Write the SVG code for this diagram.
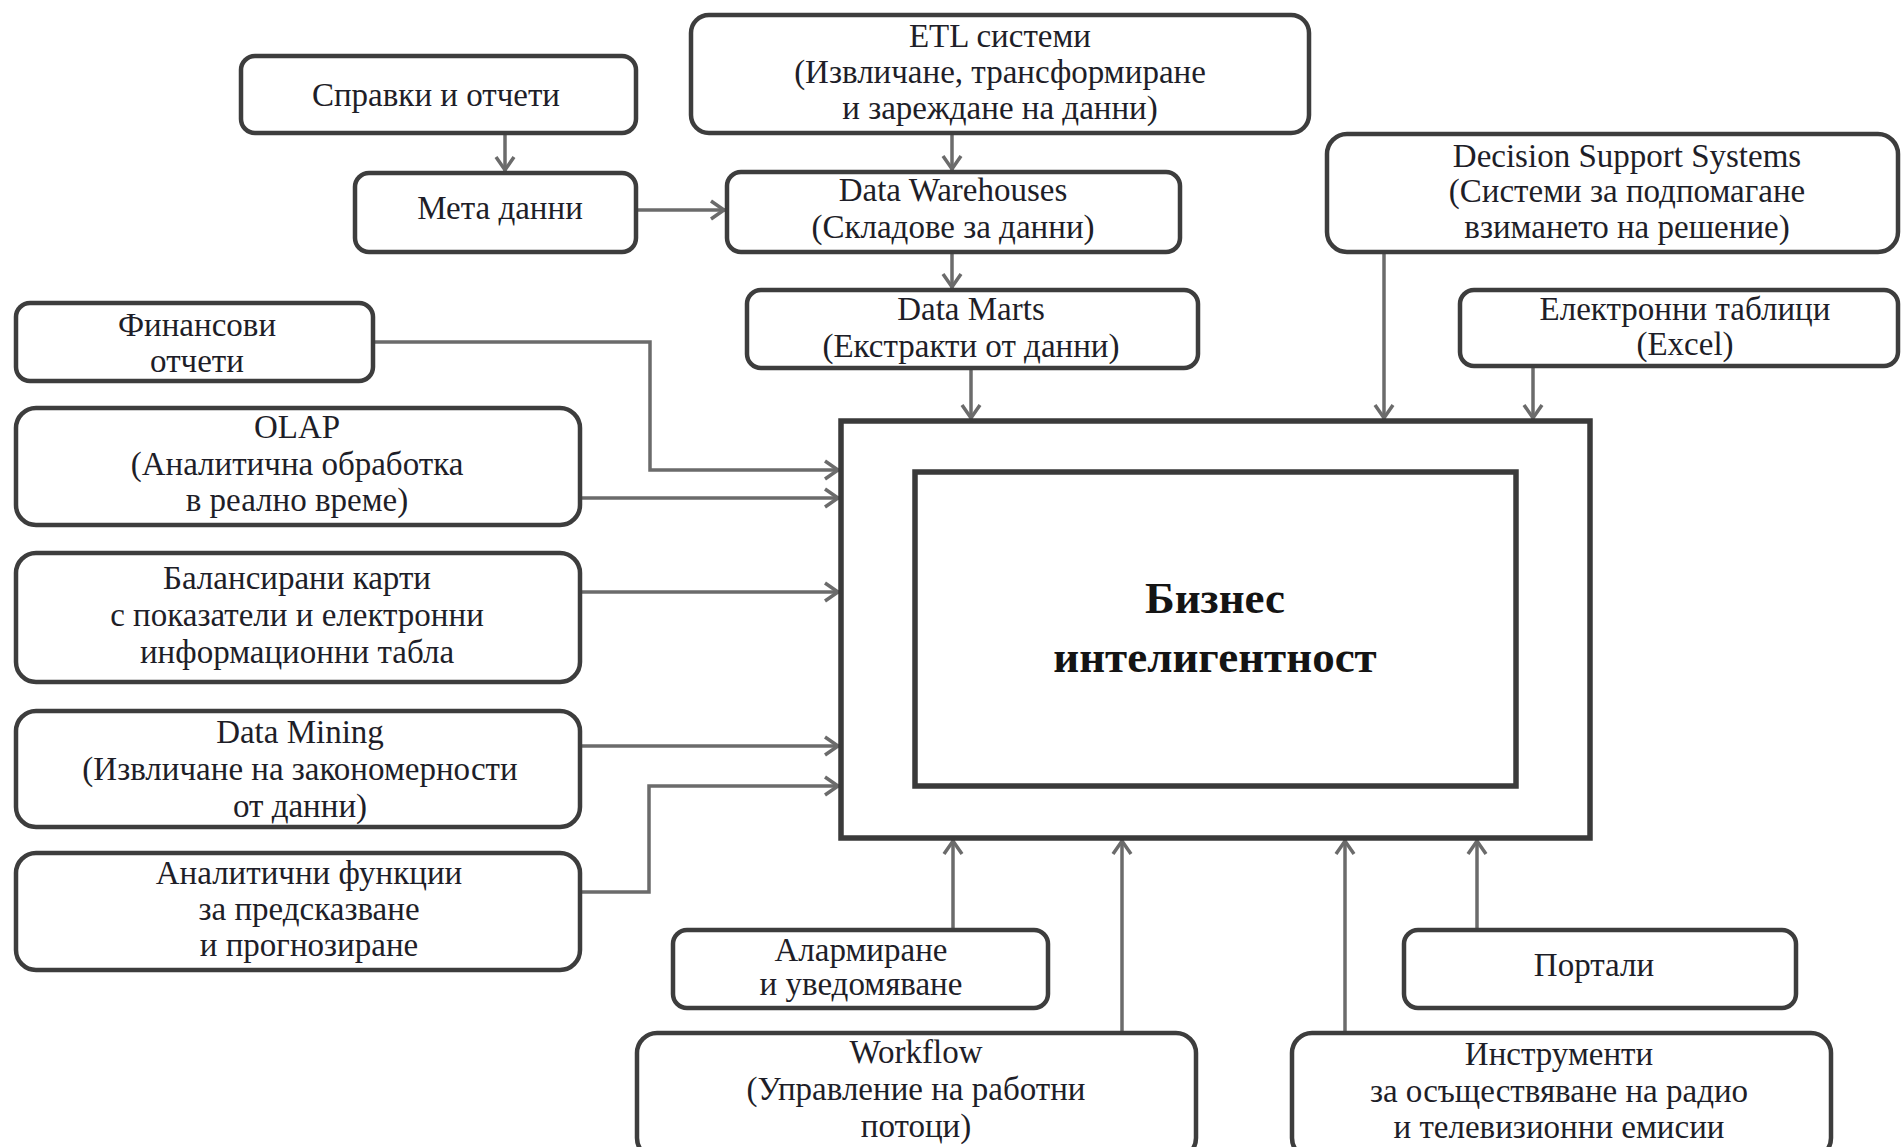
<svg xmlns="http://www.w3.org/2000/svg" width="1902" height="1147" viewBox="0 0 1902 1147">
<style>
.box{fill:#fff;stroke:#3d3d3d;stroke-width:4.5}
.core{fill:#fff;stroke:#3a3a3a;stroke-width:5.5}
.t{font-family:"Liberation Serif","Times New Roman",serif;font-size:33px;fill:#1e1e28;text-anchor:middle}
.b{font-family:"Liberation Serif","Times New Roman",serif;font-size:45px;font-weight:bold;fill:#141414;text-anchor:middle}
.c{fill:none;stroke:#6b6b6b;stroke-width:3.5;marker-end:url(#arr)}
</style>
<defs>
<marker id="arr" markerUnits="userSpaceOnUse" markerWidth="30" markerHeight="30" viewBox="-20 -15 30 30" refX="0" refY="0" orient="auto">
<path d="M-14,-9 L-1,0 L-14,9" fill="none" stroke="#6b6b6b" stroke-width="3.5"/>
</marker>
</defs>
<rect width="1902" height="1147" fill="#fff"/>
<g id="connectors">
<path class="c" d="M505,133 V171"/>
<path class="c" d="M636,210 H725"/>
<path class="c" d="M952,133 V170"/>
<path class="c" d="M952,252 V288"/>
<path class="c" d="M971,368 V419"/>
<path class="c" d="M1384,252 V419"/>
<path class="c" d="M1533,368 V419"/>
<path class="c" d="M372,342 H650 V470 H839"/>
<path class="c" d="M580,498 H839"/>
<path class="c" d="M580,592 H839"/>
<path class="c" d="M580,746 H839"/>
<path class="c" d="M580,892 H649 V786 H839"/>
<path class="c" d="M953,930 V840"/>
<path class="c" d="M1122,1033 V840"/>
<path class="c" d="M1345,1033 V840"/>
<path class="c" d="M1477,930 V840"/>
</g>
<g id="bi">
<rect class="core" x="841" y="421" width="749" height="417"/>
<rect class="core" x="915" y="472" width="601" height="314"/>
<text class="b" x="1215" y="613">Бизнес</text>
<text class="b" x="1215" y="672">интелигентност</text>
</g>
<g id="spravki">
<rect class="box" x="241" y="56" width="395" height="77" rx="14"/>
<text class="t" x="436" y="106">Справки и отчети</text>
</g>
<g id="meta">
<rect class="box" x="355" y="173" width="281" height="79" rx="14"/>
<text class="t" x="500" y="219">Мета данни</text>
</g>
<g id="etl">
<rect class="box" x="691" y="15" width="618" height="118" rx="18"/>
<text class="t" x="1000" y="47">ETL системи</text>
<text class="t" x="1000" y="83">(Извличане, трансформиране</text>
<text class="t" x="1000" y="119">и зареждане на данни)</text>
</g>
<g id="dw">
<rect class="box" x="727" y="172" width="453" height="80" rx="14"/>
<text class="t" x="953" y="201">Data Warehouses</text>
<text class="t" x="953" y="238">(Складове за данни)</text>
</g>
<g id="dm">
<rect class="box" x="747" y="290" width="451" height="78" rx="14"/>
<text class="t" x="971" y="320">Data Marts</text>
<text class="t" x="971" y="357">(Екстракти от данни)</text>
</g>
<g id="dss">
<rect class="box" x="1327" y="134" width="571" height="118" rx="20"/>
<text class="t" x="1627" y="167">Decision Support Systems</text>
<text class="t" x="1627" y="202">(Системи за подпомагане</text>
<text class="t" x="1627" y="238">взимането на решение)</text>
</g>
<g id="excel">
<rect class="box" x="1460" y="290" width="438" height="76" rx="14"/>
<text class="t" x="1685" y="320">Електронни таблици</text>
<text class="t" x="1685" y="355">(Excel)</text>
</g>
<g id="fin">
<rect class="box" x="16" y="303" width="357" height="78" rx="14"/>
<text class="t" x="197" y="336">Финансови</text>
<text class="t" x="197" y="372">отчети</text>
</g>
<g id="olap">
<rect class="box" x="16" y="408" width="564" height="117" rx="20"/>
<text class="t" x="297" y="438">OLAP</text>
<text class="t" x="297" y="475">(Аналитична обработка</text>
<text class="t" x="297" y="511">в реално време)</text>
</g>
<g id="bsc">
<rect class="box" x="16" y="553" width="564" height="129" rx="20"/>
<text class="t" x="297" y="589">Балансирани карти</text>
<text class="t" x="297" y="626">с показатели и електронни</text>
<text class="t" x="297" y="663">информационни табла</text>
</g>
<g id="mining">
<rect class="box" x="16" y="711" width="564" height="116" rx="20"/>
<text class="t" x="300" y="743">Data Mining</text>
<text class="t" x="300" y="780">(Извличане на закономерности</text>
<text class="t" x="300" y="817">от данни)</text>
</g>
<g id="analytics">
<rect class="box" x="16" y="853" width="564" height="117" rx="20"/>
<text class="t" x="309" y="884">Аналитични функции</text>
<text class="t" x="309" y="920">за предсказване</text>
<text class="t" x="309" y="956">и прогнозиране</text>
</g>
<g id="alarm">
<rect class="box" x="673" y="930" width="375" height="78" rx="14"/>
<text class="t" x="861" y="961">Алармиране</text>
<text class="t" x="861" y="995">и уведомяване</text>
</g>
<g id="portals">
<rect class="box" x="1404" y="930" width="392" height="78" rx="14"/>
<text class="t" x="1594" y="976">Портали</text>
</g>
<g id="workflow">
<rect class="box" x="637" y="1033" width="559" height="125" rx="20"/>
<text class="t" x="916" y="1063">Workflow</text>
<text class="t" x="916" y="1100">(Управление на работни</text>
<text class="t" x="916" y="1137">потоци)</text>
</g>
<g id="tools">
<rect class="box" x="1292" y="1033" width="539" height="125" rx="20"/>
<text class="t" x="1559" y="1065">Инструменти</text>
<text class="t" x="1559" y="1102">за осъществяване на радио</text>
<text class="t" x="1559" y="1138">и телевизионни емисии</text>
</g>
</svg>
